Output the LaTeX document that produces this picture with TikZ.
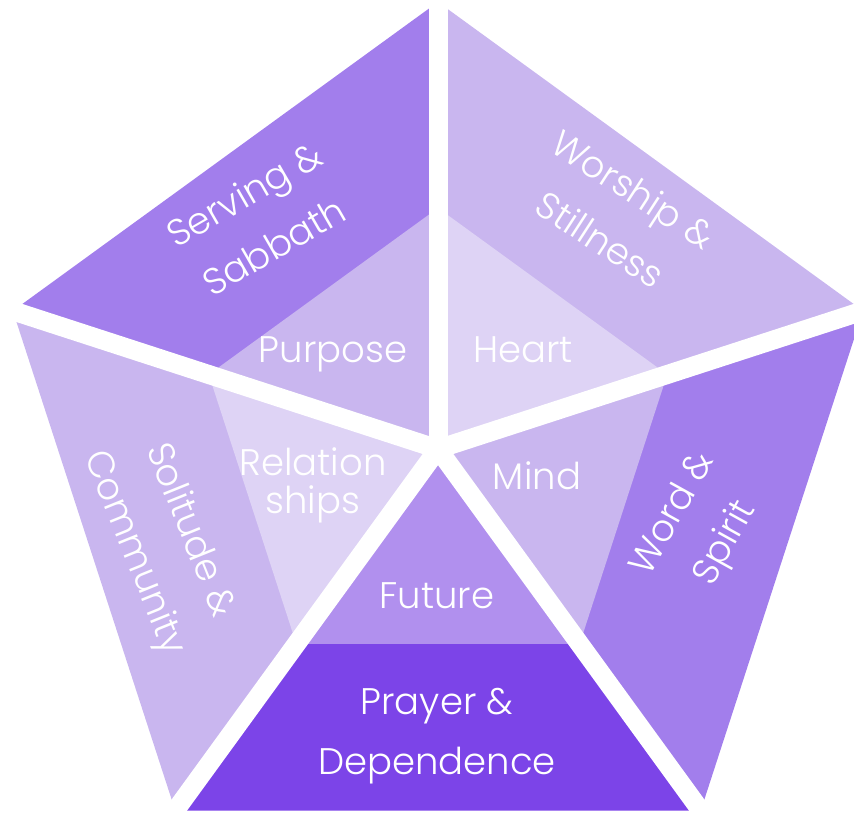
\documentclass[tikz,border=0pt]{standalone}
\usepackage{fontspec}
\setmainfont{Poppins Light}
\definecolor{violetdeep}{HTML}{7C44E8}
\definecolor{violetmid}{HTML}{A27EEC}
\definecolor{violetsoft}{HTML}{B190EE}
\definecolor{violetpale}{HTML}{C9B6EF}
\definecolor{violetmist}{HTML}{DED3F5}
\tikzset{
  x=1pt, y=1pt, % one unit is one pixel
  outer/.style={fill=#1}, % rim part of a sector
  inner/.style={fill=#1}, % core part of a sector
  split/.style={draw=white, line width=19pt}, % white strips between the sectors
  word/.style={text=white, align=center, font=\fontsize{37}{60}\selectfont},
}

\begin{document}
\begin{tikzpicture}
  \useasboundingbox (0,0) rectangle (854,814);
  \clip (0,0) rectangle (854,814);
  \begin{scope}[shift={(438,365)}]
    % the five sectors: start angle, end angle, rim colour, core colour
    \foreach \a/\b/\rim/\core in {90/162/violetmid/violetpale,
                                  18/90/violetpale/violetmist,
                                  -54/18/violetmid/violetpale,
                                  -126/-54/violetdeep/violetsoft,
                                  162/234/violetpale/violetmist}{
      \fill[outer=\rim] (0,0) -- (\a:447) -- (\b:447) -- cycle;
      \fill[inner=\core] (0,0) -- (\a:241) -- (\b:241) -- cycle;
    }
    \foreach \a in {90,162,234,306,18}
      \draw[split] (0,0) -- (\a:475);

    % core labels
    \node[word, anchor=base] (purpose) at (-105,86) {Purpose};
    \node[word, anchor=base] (heart) at (85,86) {Heart};
    \node[word, anchor=base] (mind) at (99,-41) {Mind};
    \node[word, anchor=base] (future) at (-1,-160) {Future};
    \node[word, font=\fontsize{37}{38}\selectfont] (relships) at (-125,-36) {Relation\\ships};

    % rim labels
    \node[word, rotate=30] (serving) at (-179,229) {Serving \&\\Sabbath};
    \node[word, rotate=-33] (worship) at (179,235) {Worship \&\\Stillness};
    \node[word, rotate=61] (wordspirit) at (262,-80) {Word \&\\Spirit};
    \node[word, rotate=-68] (solitude) at (-277,-93) {Solitude \&\\Community};
    \node[word] (prayer) at (-1,-287) {Prayer \&\\Dependence};
  \end{scope}
\end{tikzpicture}
\end{document}
